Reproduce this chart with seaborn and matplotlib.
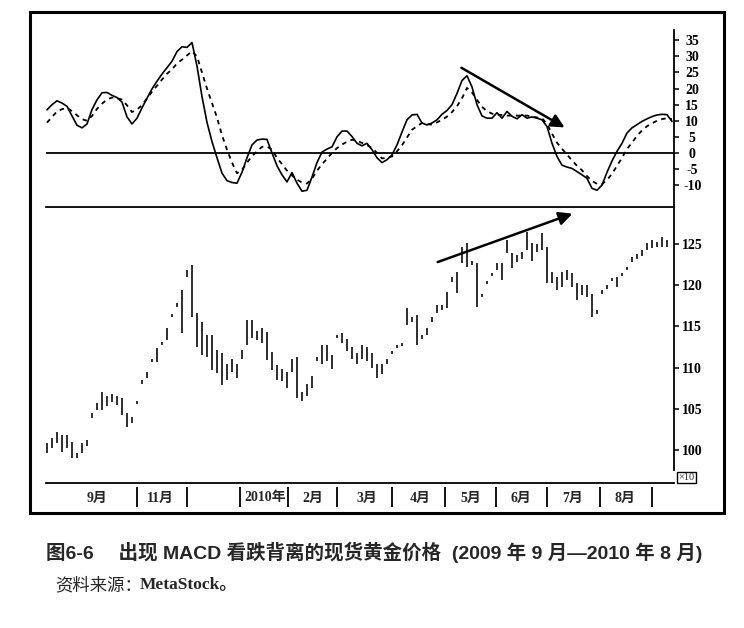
"""
MACD bearish divergence on spot gold (Sep 2009 - Aug 2010)
"""

import numpy as np
import pandas as pd
import matplotlib
matplotlib.use("Agg")
import matplotlib.pyplot as plt
from matplotlib.patches import Rectangle
import seaborn as sns

# ====================== DATA (one point ~ every 2 trading days) ======================
macd_line = [
    13.4, 15.0, 16.2, 15.5, 14.5, 11.5, 8.6, 7.8, 9.0, 13.5,
    16.5, 18.7, 18.8, 17.9, 17.2, 15.8, 11.2, 9.0, 10.8, 14.0,
    17.0, 19.9, 22.3, 24.5, 26.5, 28.5, 31.5, 33.0, 32.8, 34.3,
    27.0, 17.5, 9.5, 3.5, -1.5, -6.3, -8.6, -9.2, -9.4, -6.0,
    -1.5, 2.5, 4.0, 4.3, 4.2, 0.0, -4.0, -6.8, -9.0, -6.1,
    -9.4, -11.9, -11.6, -7.5, -3.0, 0.3, 1.2, 1.9, 5.0, 6.8,
    6.8, 5.1, 3.0, 2.2, 3.0, 1.0, -1.5, -3.0, -2.1, -0.6,
    2.5, 6.5, 10.3, 11.8, 12.0, 9.3, 8.7, 9.3, 10.3, 12.0,
    13.2, 15.0, 18.5, 22.5, 24.0, 20.5, 15.0, 11.5, 10.8, 10.8,
    12.5, 10.8, 12.9, 11.4, 10.6, 11.9, 10.8, 11.2, 10.8, 10.3,
    8.2, 3.0, -1.1, -3.8, -4.4, -4.8, -5.8, -6.8, -7.9, -11.0,
    -11.6, -10.0, -6.0, -2.5, 0.5, 3.0, 6.2, 7.8, 8.8, 9.8,
    10.6, 11.3, 11.8, 12.0, 11.9, 9.8,
]

signal_line = [
    9.4, 11.2, 12.9, 13.6, 14.0, 13.0, 11.7, 10.5, 10.0, 11.5,
    13.7, 15.3, 16.6, 17.2, 17.0, 16.6, 14.8, 12.7, 13.5, 14.8,
    17.0, 19.0, 20.9, 22.8, 24.6, 26.0, 27.8, 29.0, 30.3, 31.6,
    30.0, 25.0, 20.0, 15.5, 11.0, 5.5, 1.0, -3.0, -6.3, -5.3,
    -3.0, -1.0, 0.5, 1.9, 2.0, 1.0, -1.5, -3.5, -5.5, -7.0,
    -8.3, -9.2, -9.5, -8.0, -5.5, -3.5, -1.8, 0.0, 1.5, 2.6,
    3.5, 4.1, 3.8, 3.1, 2.4, 1.6, 0.0, -1.7, -1.5, -1.1,
    0.5, 2.4, 4.8, 7.2, 8.3, 9.3, 9.0, 8.8, 9.5, 10.3,
    11.3, 12.7, 14.5, 17.0, 20.2, 18.8, 16.5, 14.3, 13.0, 12.2,
    11.9, 11.8, 11.6, 11.6, 11.6, 11.6, 11.6, 11.3, 11.0, 10.8,
    9.0, 6.0, 3.2, 1.3, -0.5, -2.3, -4.0, -5.4, -7.2, -8.7,
    -9.6, -9.7, -8.4, -6.5, -4.0, -1.5, 1.2, 3.2, 5.3, 7.0,
    8.3, 9.2, 10.0, 10.5, 10.8, 10.5,
]

price_high = [
    100.9, 101.5, 102.2, 101.8, 101.8, 101.0, 99.6, 100.8, 101.2, 104.5,
    105.7, 107.0, 106.5, 106.8, 106.6, 106.3, 104.5, 104.0, 106.0, 108.5,
    109.5, 111.1, 112.4, 113.1, 114.8, 116.5, 117.8, 119.4, 121.8, 122.5,
    116.6, 115.5, 114.0, 114.0, 112.2, 111.8, 110.5, 111.0, 110.5, 112.2,
    115.8, 115.8, 114.5, 114.8, 114.3, 111.9, 110.3, 109.8, 109.5, 111.0,
    111.3, 107.0, 108.0, 109.0, 111.3, 112.7, 112.8, 111.5, 114.0, 114.2,
    113.5, 112.5, 111.8, 112.8, 112.5, 111.8, 110.5, 110.5, 111.0, 112.0,
    112.8, 113.0, 117.2, 116.2, 116.4, 114.0, 114.8, 116.1, 117.6, 117.6,
    119.2, 121.0, 121.6, 124.7, 125.1, 123.0, 122.7, 119.0, 120.5, 121.5,
    122.7, 122.7, 125.5, 123.9, 123.7, 124.0, 126.5, 125.1, 125.0, 126.3,
    124.6, 121.6, 121.0, 121.6, 121.8, 121.5, 120.3, 120.0, 120.0, 119.0,
    117.0, 119.4, 120.0, 120.9, 121.0, 121.5, 122.2, 123.4, 123.8, 124.3,
    125.1, 125.5, 125.3, 125.8, 125.5,
]

price_low = [
    99.7, 100.3, 100.8, 99.8, 100.2, 99.0, 99.0, 99.6, 100.5, 103.9,
    104.9, 104.9, 105.3, 105.8, 105.5, 104.2, 102.8, 103.3, 105.6, 108.0,
    108.7, 110.7, 110.7, 112.8, 113.3, 116.1, 117.4, 114.2, 121.0, 116.1,
    112.5, 111.5, 111.3, 109.7, 109.3, 107.9, 108.5, 109.5, 108.8, 111.0,
    112.7, 113.6, 113.4, 113.0, 110.9, 109.7, 108.5, 108.4, 107.5, 109.5,
    106.3, 106.0, 106.5, 107.5, 110.8, 110.5, 110.8, 109.8, 113.6, 113.0,
    112.0, 111.0, 110.5, 111.0, 110.8, 110.0, 108.7, 109.2, 110.4, 111.7,
    112.4, 112.6, 115.2, 115.6, 112.7, 113.5, 114.0, 115.5, 116.6, 117.0,
    117.2, 120.4, 119.1, 122.7, 122.2, 122.5, 117.4, 118.6, 120.1, 121.1,
    121.8, 120.6, 123.9, 122.1, 122.8, 123.2, 124.3, 123.0, 124.0, 124.3,
    120.3, 120.3, 119.4, 119.8, 120.6, 119.8, 118.2, 118.8, 118.6, 116.1,
    116.5, 119.0, 119.6, 120.5, 119.8, 121.1, 121.8, 122.8, 123.2, 123.5,
    124.3, 124.5, 124.6, 124.6, 124.6,
]

macd_ticks = [35, 30, 25, 20, 15, 10, 5, 0, -5, -10]
price_ticks = [125, 120, 115, 110, 105, 100]

month_labels = ["9月", "11月", "2010年", "2月", "3月", "4月", "5月", "6月", "7月", "8月"]
month_label_pos = [10, 22.6, 43.6, 53.2, 64, 74.6, 84.8, 94.8, 105.2, 115.6]
month_breaks = [18, 28, 38.6, 48.2, 58, 69, 79.6, 89.8, 100, 110.6, 121]

# divergence arrows (start, end) in bar index / value
macd_arrow = [(82.4, 26.9), (104.0, 7.5)]
price_arrow = [(77.6, 122.7), (105.6, 128.8)]

caption = "图6-6　 出现 MACD 看跌背离的现货黄金价格  (2009 年 9 月—2010 年 8 月)"
source_cn = "资料来源："
source_en = "MetaStock。"

# ====================== PREPARE ======================
macd_df = pd.DataFrame({"bar": np.arange(len(macd_line)),
                        "macd": macd_line, "signal": signal_line})
price_df = pd.DataFrame({"bar": np.arange(len(price_high)),
                         "high": price_high, "low": price_low})

sns.set_theme(style="white")
plt.rcParams["font.family"] = ["Liberation Serif", "Noto Sans CJK SC", "DejaVu Sans"]
plt.rcParams["axes.unicode_minus"] = False

W, H = 744, 628
fig = plt.figure(figsize=(W / 100, H / 100), dpi=100)


def box(left, top, right, bottom):
    return [left / W, (H - bottom) / H, (right - left) / W, (bottom - top) / H]


xlim = (-0.2, 125.4)
ax_macd = fig.add_axes(box(46, 12, 674, 207))
ax_price = fig.add_axes(box(46, 207, 674, 483))
ax_month = fig.add_axes(box(46, 483, 674, 513))

tick_font = dict(family=["Liberation Serif", "DejaVu Sans"], weight="bold", size=10)

# ====================== MACD PANEL ======================
sns.lineplot(data=macd_df, x="bar", y="macd", ax=ax_macd, color="black", lw=1.2)
sns.lineplot(data=macd_df, x="bar", y="signal", ax=ax_macd, color="black", lw=1.3,
             linestyle=(0, (2.5, 2.5)))
ax_macd.axhline(0, color="black", lw=1.3)
ax_macd.set_xlim(*xlim)
ax_macd.set_ylim(-16.8, 43.8)
ax_macd.annotate("", xy=macd_arrow[1], xytext=macd_arrow[0],
                 arrowprops=dict(arrowstyle="-|>", color="black", lw=1.8, mutation_scale=20))

# ====================== PRICE PANEL ======================
ax_price.vlines(price_df["bar"], price_df["low"], price_df["high"], color="black", lw=1.15)
ax_price.set_xlim(*xlim)
ax_price.set_ylim(96.0, 129.5)
ax_price.annotate("", xy=price_arrow[1], xytext=price_arrow[0],
                  arrowprops=dict(arrowstyle="-|>", color="black", lw=1.8, mutation_scale=20))

for ax, ticks in [(ax_macd, macd_ticks), (ax_price, price_ticks)]:
    for s in ["left", "top"]:
        ax.spines[s].set_visible(False)
    for s in ["right", "bottom"]:
        ax.spines[s].set_color("black")
        ax.spines[s].set_linewidth(1.3)
    ax.set_xticks([])
    ax.set_xlabel("")
    ax.set_ylabel("")
    ax.yaxis.tick_right()
    ax.set_yticks(ticks)
    ax.set_yticklabels([str(t) for t in ticks], fontdict=tick_font)
    for lbl in ax.get_yticklabels():
        lbl.set_horizontalalignment("center")
    ax.tick_params(axis="y", direction="out", length=3.6, width=1.1, pad=9.5, colors="black")
    ax.patch.set_alpha(0)

ax_macd.spines["right"].set_bounds(-16.8, 38.2)
ax_price.spines["right"].set_bounds(97.6, 129.5)

# ====================== MONTH STRIP ======================
ax_month.set_xlim(*xlim)
ax_month.set_ylim(0, 1)
ax_month.axis("off")
ax_month.vlines(month_breaks, 0.2, 0.87, color="black", lw=1.3)
for pos, lab in zip(month_label_pos, month_labels):
    ax_month.text(pos, 0.5, lab, ha="center", va="center", fontsize=10, weight="bold",
                  family=["Liberation Serif", "Noto Sans CJK SC"])

fig.text(686.5 / W, (H - 477.5) / H, "×10", ha="center", va="center", fontsize=7.5,
         family=["Liberation Serif", "DejaVu Sans"],
         bbox=dict(boxstyle="square,pad=0.12", fc="white", ec="black", lw=1.0))

# outer frame
fig.patches.append(Rectangle((30 / W, (H - 513) / H), 694 / W, 501 / H, transform=fig.transFigure,
                             fill=False, ec="black", lw=2.2))

# ====================== CAPTION ======================
fig.text(46 / W, (H - 552) / H, caption, ha="left", va="center", fontsize=14, weight="bold",
         family=["Liberation Sans", "Noto Sans CJK SC", "DejaVu Sans"])
fig.text(55 / W, (H - 585) / H, source_cn, ha="left", va="center", fontsize=12.5,
         family=["Noto Sans CJK SC", "DejaVu Sans"])
fig.text(140 / W, (H - 585) / H, source_en, ha="left", va="center", fontsize=12.5, weight="bold",
         family=["Liberation Serif", "Noto Sans CJK SC"])

fig.savefig("out.png", dpi=100)
